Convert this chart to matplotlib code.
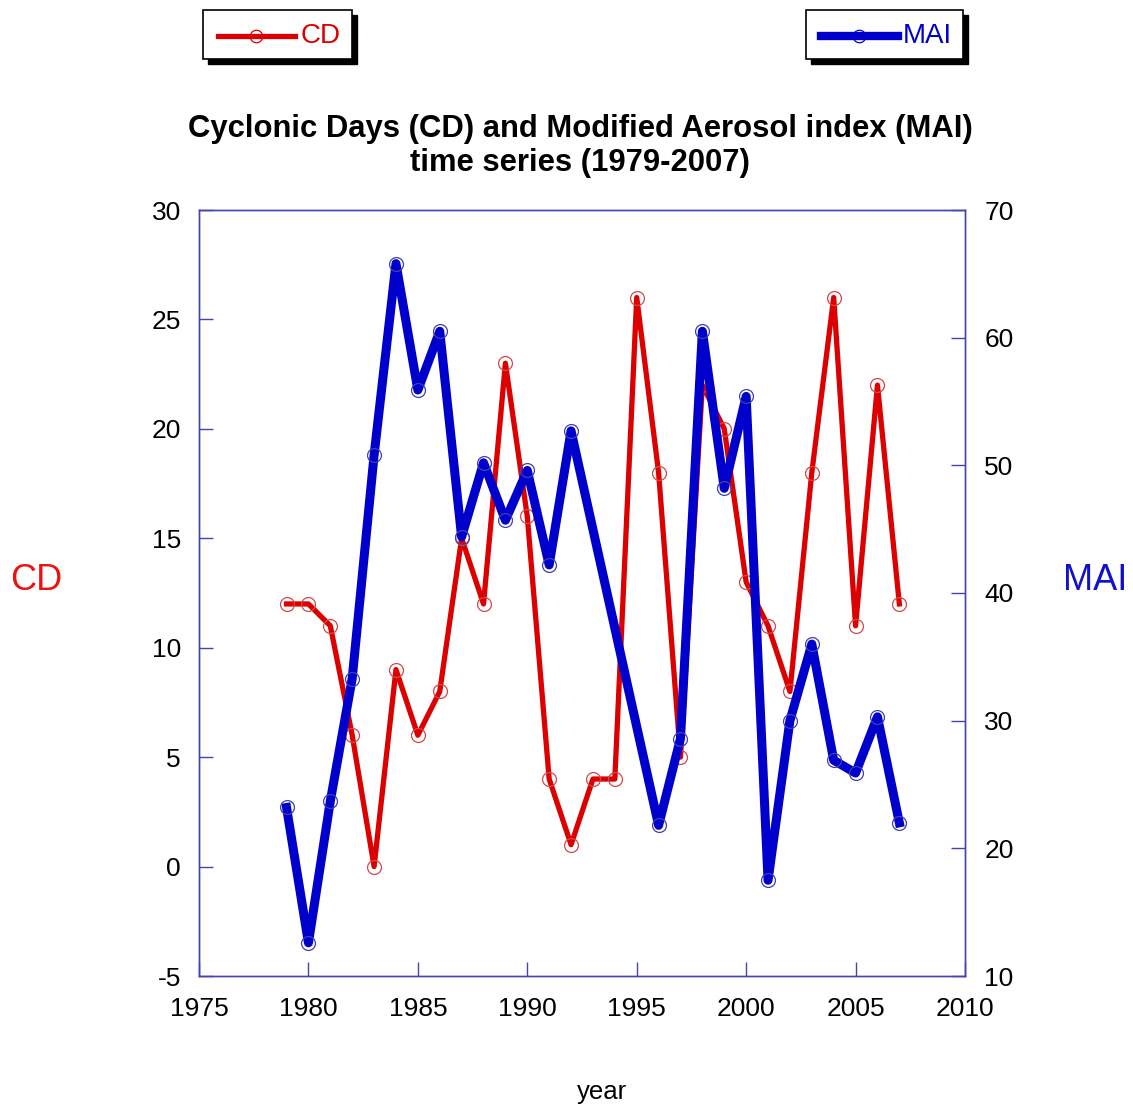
import matplotlib
matplotlib.use("Agg")
import matplotlib.pyplot as plt
from matplotlib.patches import Rectangle
from matplotlib.lines import Line2D

plt.rcParams['font.family'] = ['Liberation Sans', 'DejaVu Sans']
plt.rcParams['axes.unicode_minus'] = False

# --- Data ---
cd_years = list(range(1979, 2008))
cd_values = [12, 12, 11, 6, 0, 9, 6, 8, 15, 12, 23, 16, 4, 1, 4, 4,
             26, 18, 5, 22, 20, 13, 11, 8, 18, 26, 11, 22, 12]

# MAI has no values for 1993-1995
mai_years = [1979, 1980, 1981, 1982, 1983, 1984, 1985, 1986, 1987, 1988,
             1989, 1990, 1991, 1992, 1996, 1997, 1998, 1999, 2000, 2001,
             2002, 2003, 2004, 2005, 2006, 2007]
mai_values = [23.2, 12.6, 23.7, 33.3, 50.8, 65.8, 55.9, 60.5, 44.4, 50.2,
              45.7, 49.6, 42.2, 52.7, 21.8, 28.6, 60.5, 48.2, 55.4, 17.5,
              30.0, 36.0, 26.9, 25.9, 30.3, 22.0]

cd_color = '#dd0000'
mai_color = '#0000cc'
frame_color = '#4444aa'

fig = plt.figure(figsize=(11.33, 11.06), dpi=100)
ax = fig.add_axes([199 / 1133, 1 - 976 / 1106, 766 / 1133, 766 / 1106])
ax2 = ax.twinx()

ax.plot(cd_years, cd_values, color=cd_color, linewidth=3.8,
        marker='o', markersize=10, markerfacecolor='none',
        markeredgecolor='#d44848', markeredgewidth=0.9, zorder=3)
ax2.plot(mai_years, mai_values, color=mai_color, linewidth=6.5,
         marker='o', markersize=10, markerfacecolor='none',
         markeredgecolor='#4040b0', markeredgewidth=0.9, zorder=3)

ax.set_xlim(1975, 2010)
ax.set_ylim(-5, 30)
ax2.set_ylim(10, 70)
ax.set_xticks(range(1975, 2011, 5))
ax.set_yticks(range(-5, 31, 5))
ax2.set_yticks(range(10, 71, 10))

for a in (ax, ax2):
    for sp in a.spines.values():
        sp.set_color(frame_color)
        sp.set_linewidth(1.0)

ax.tick_params(axis='both', direction='in', length=10, width=1,
               color=frame_color, labelsize=19, pad=13)
ax.tick_params(axis='x', pad=15)
ax2.tick_params(axis='y', direction='in', length=10, width=1,
                color=frame_color, labelsize=19, pad=14)

# Axis titles
fig.text(36 / 1133, 1 - 580 / 1106, 'CD', color='#ee1111', fontsize=26,
         ha='center', va='center')
fig.text(1095 / 1133, 1 - 580 / 1106, 'MAI', color='#1111cc', fontsize=26,
         ha='center', va='center')
fig.text(602 / 1133, 1 - 1092 / 1106, 'year', color='black', fontsize=18.5,
         ha='center', va='center')

fig.text(580 / 1133, 1 - 146 / 1106,
         'Cyclonic Days (CD) and Modified Aerosol index (MAI)\ntime series (1979-2007)',
         ha='center', va='center', fontsize=22.3, fontweight='bold',
         linespacing=1.18)


# Legend boxes with drop shadow, drawn in figure pixels
def legend_box(x0, x1, label, color, lw, text_x):
    W, H = 1133, 1106
    y0, y1 = 10, 59
    fig.patches.append(Rectangle(((x0 + 5) / W, 1 - (y1 + 5) / H),
                                 (x1 - x0) / W, (y1 - y0) / H,
                                 transform=fig.transFigure, facecolor='black',
                                 edgecolor='black', zorder=1))
    fig.patches.append(Rectangle((x0 / W, 1 - y1 / H), (x1 - x0) / W,
                                 (y1 - y0) / H, transform=fig.transFigure,
                                 facecolor='white', edgecolor='black',
                                 linewidth=1.2, zorder=2))
    yc = 1 - 36 / H
    fig.lines.append(Line2D([(x0 + 15) / W, (x0 + 92) / W], [yc, yc],
                            transform=fig.transFigure, color=color,
                            linewidth=lw, zorder=3))
    fig.lines.append(Line2D([(x0 + 53) / W], [yc], transform=fig.transFigure,
                            marker='o', markersize=9, markerfacecolor='none',
                            markeredgecolor=color, markeredgewidth=0.9,
                            zorder=4))
    fig.text(text_x / W, yc, label, color=color, fontsize=20,
             ha='left', va='center', zorder=5)


legend_box(203, 352, 'CD', cd_color, 3.8, 301)
legend_box(806, 963, 'MAI', mai_color, 6.0, 903)

fig.savefig('out.png', dpi=100)
